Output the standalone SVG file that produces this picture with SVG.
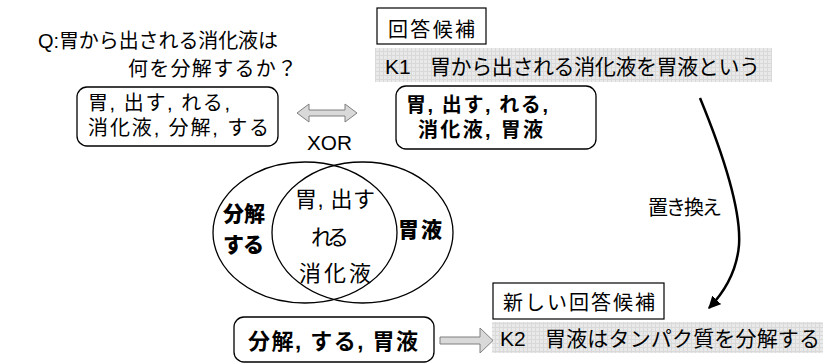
<svg xmlns="http://www.w3.org/2000/svg" width="823" height="364" viewBox="0 0 823 364">
<defs>
<pattern id="grid" width="4" height="4" patternUnits="userSpaceOnUse"><rect width="4" height="4" fill="#e9e9e9"/><path d="M3.5 0V4M0 3.5H4" stroke="#d9d9d9" stroke-width="1"/></pattern>
<marker id="ah" viewBox="0 0 10 10" refX="9" refY="5" markerWidth="5" markerHeight="5" orient="auto" markerUnits="strokeWidth"><path d="M0,0 L10,5 L0,10 Z" fill="#000"/></marker>
<style>
text{font-family:"Liberation Sans","Noto Sans CJK JP",sans-serif;fill:#000}
.t18{font-size:20px}
.t20{font-size:21px}
.tv{font-size:22px}
.b{font-weight:700}
.k{font-weight:900}
.box{fill:#fff;stroke:#000;stroke-width:1.3}
.sq{fill:#fff;stroke:#000;stroke-width:1.2}
.band{fill:url(#grid)}
.blk{fill:#d9d9d9;stroke:#7f7f7f;stroke-width:1}
.ell{fill:none;stroke:#000;stroke-width:1.3}
</style>
</defs>
<rect width="823" height="364" fill="#fff"/>

<g id="question">
<text class="t18" x="38" y="48" textLength="240" lengthAdjust="spacing">Q:胃から出される消化液は</text>
<text class="t18" x="128" y="76" textLength="169" lengthAdjust="spacing">何を分解するか？</text>
</g>

<g id="q-keywords">
<rect class="box" x="77" y="87" width="201" height="59" rx="10"/>
<text class="t18" x="88" y="110" textLength="142" lengthAdjust="spacing">胃, 出す, れる,</text>
<text class="t18" x="88" y="135" textLength="181" lengthAdjust="spacing">消化液, 分解, する</text>
</g>

<g id="candidate-label">
<rect class="sq" x="377" y="8" width="109" height="36"/>
<text class="t18" x="388" y="37" textLength="87" lengthAdjust="spacing">回答候補</text>
</g>

<g id="k1">
<rect class="band" x="375" y="48" width="397" height="34"/>
<text class="t20" x="385" y="74"><tspan>K1</tspan><tspan x="430" textLength="330" lengthAdjust="spacing">胃から出される消化液を胃液という</tspan></text>
</g>

<g id="k1-keywords">
<rect class="box" x="396" y="86" width="200" height="63" rx="10"/>
<text class="t18 b" x="406" y="112" textLength="142" lengthAdjust="spacing">胃, 出す, れる,</text>
<text class="t18 b" x="418" y="137" textLength="125" lengthAdjust="spacing">消化液, 胃液</text>
</g>

<g id="xor">
<polygon class="blk" points="297,113 309,104 309,110 345,110 345,104 357,113 345,122 345,116 309,116 309,122"/>
<text class="t20" x="307" y="150" textLength="45" lengthAdjust="spacingAndGlyphs">XOR</text>
</g>

<g id="venn">
<ellipse class="ell" cx="305" cy="232.5" rx="92" ry="70.5"/>
<ellipse class="ell" cx="362.5" cy="232.5" rx="90.5" ry="70.5"/>
<text class="t20 k" x="223" y="221" textLength="42" lengthAdjust="spacing">分解</text>
<text class="t20 k" x="223" y="252" textLength="41" lengthAdjust="spacing">する</text>
<text class="tv" x="295" y="207" textLength="80" lengthAdjust="spacing">胃, 出す</text>
<text class="tv" x="311" y="245" textLength="38" lengthAdjust="spacing">れる</text>
<text class="tv" x="299" y="281" textLength="72" lengthAdjust="spacing">消化液</text>
<text class="t20 k" x="398" y="237" textLength="44" lengthAdjust="spacing">胃液</text>
</g>

<g id="new-keywords">
<rect class="box" x="234" y="317" width="200" height="45" rx="10"/>
<text class="b" style="font-size:22px" x="248" y="349" textLength="170" lengthAdjust="spacing">分解, する, 胃液</text>
</g>

<g id="new-candidate-label">
<rect class="sq" x="493" y="283" width="171" height="36"/>
<text class="t18" x="503" y="310" textLength="152" lengthAdjust="spacing">新しい回答候補</text>
</g>

<g id="k2">
<rect class="band" x="492" y="322" width="331" height="31"/>
<text class="t20" x="500" y="346"><tspan>K2</tspan><tspan x="545" textLength="275" lengthAdjust="spacing">胃液はタンパク質を分解する</tspan></text>
</g>

<g id="connectors">
<polygon class="blk" points="440,337 480,337 480,328 493,340.5 480,353 480,344 440,344"/>
<path d="M700,98 Q742,200 739,245 Q736,280 709,308" fill="none" stroke="#000" stroke-width="2.5" marker-end="url(#ah)"/>
<text class="t18" x="648" y="215" textLength="74" lengthAdjust="spacing">置き換え</text>
</g>
</svg>
